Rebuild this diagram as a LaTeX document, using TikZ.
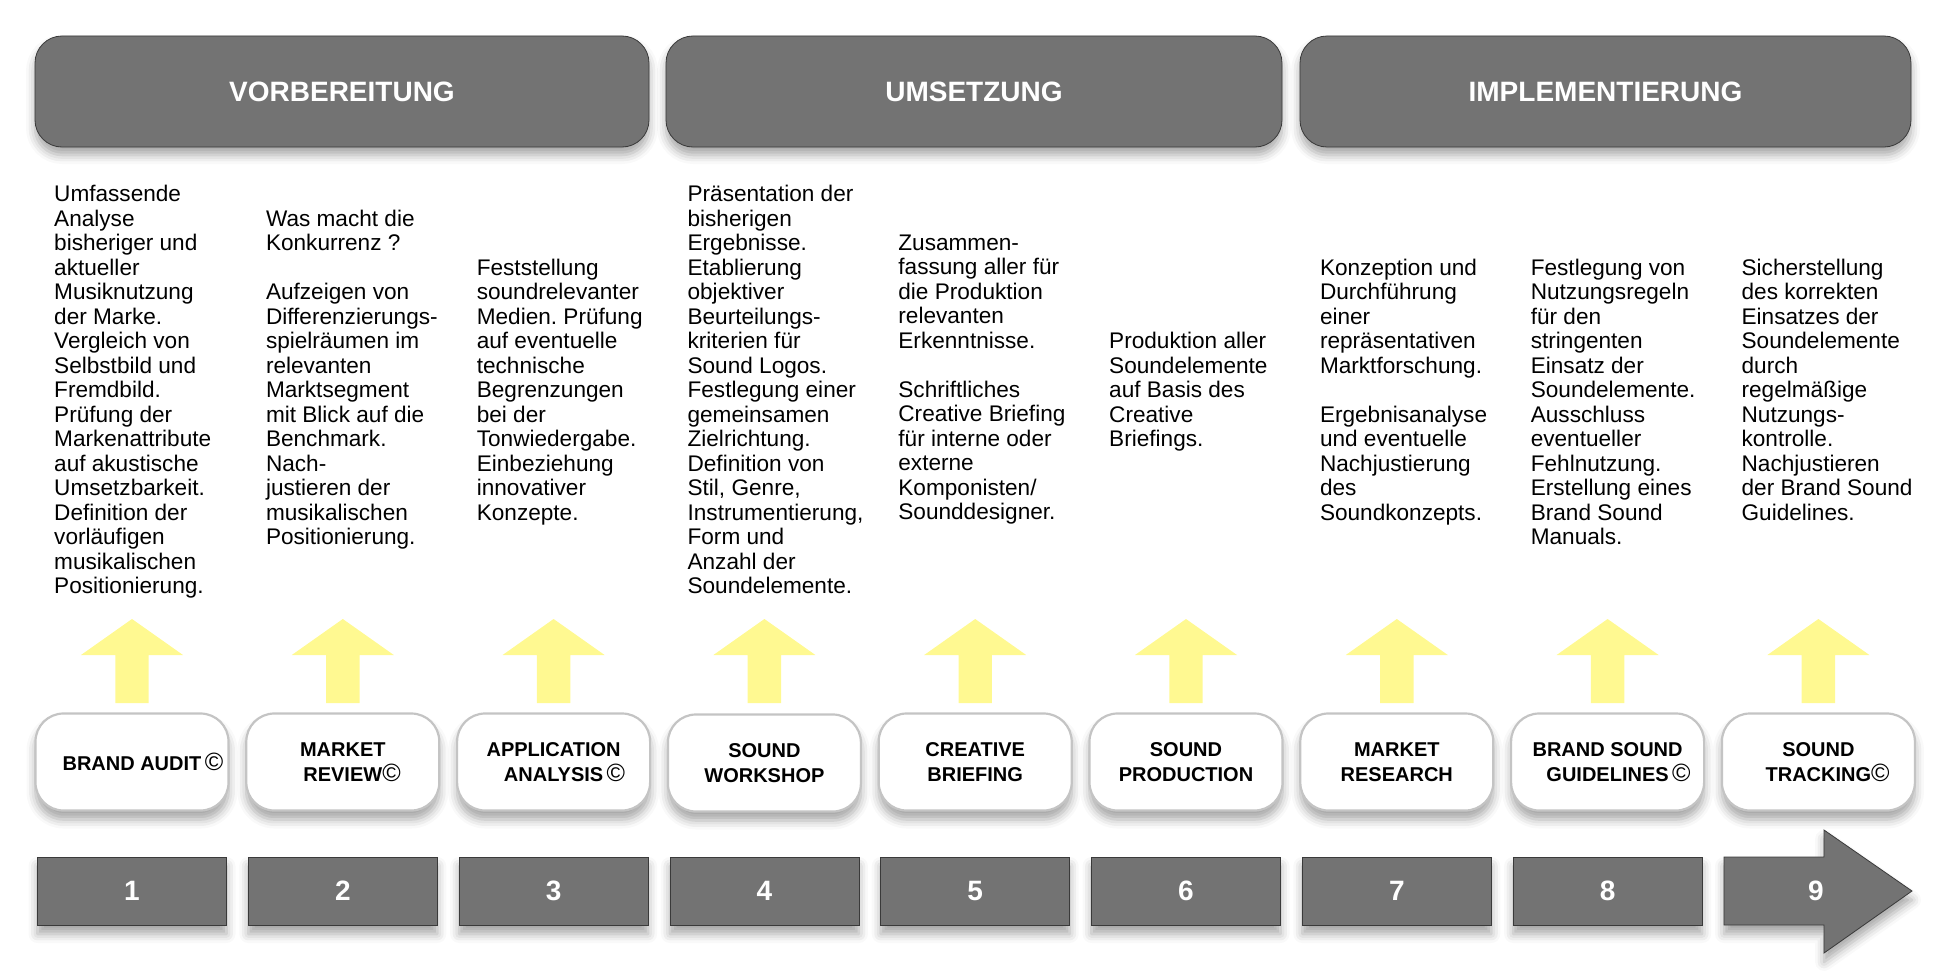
\documentclass[tikz,border=0pt]{standalone}
\usepackage{fontspec}
\setmainfont{Liberation Sans}
\usetikzlibrary{shadows.blur}
\definecolor{hdrgray}{HTML}{737373}
\definecolor{edgegray}{HTML}{3A3A3A}
\definecolor{boxedge}{HTML}{C4C4C4}
\definecolor{paleyellow}{RGB}{255,249,145}
\newcommand{\copymark}{{\fontsize{25}{25}\selectfont\mdseries ©}}
\frenchspacing
\begin{document}
\begin{tikzpicture}[x=1pt,y=-1pt,
  hdr/.style={draw=edgegray,line width=0.8pt,fill=hdrgray,rounded corners=27pt,
    blur shadow={shadow xshift=0pt,shadow yshift=-8pt,shadow blur radius=9pt,shadow opacity=35},
    minimum height=111pt,text=white,font=\bfseries\fontsize{28}{30}\selectfont,inner sep=0pt},
  stagebox/.style={draw=boxedge,line width=2.2pt,fill=white,rounded corners=28pt,
    minimum width=193pt,minimum height=97pt,align=center,inner sep=0pt,
    font=\bfseries\fontsize{20}{25}\selectfont,
    blur shadow={shadow xshift=0pt,shadow yshift=-9pt,shadow blur radius=9pt,shadow opacity=35}},
  numbox/.style={draw=edgegray,line width=0.8pt,fill=hdrgray,minimum width=189pt,minimum height=68pt,
    text=white,font=\bfseries\fontsize{28}{30}\selectfont,inner sep=0pt,
    blur shadow={shadow xshift=0pt,shadow yshift=-9pt,shadow blur radius=9pt,shadow opacity=35}},
  numlabel/.style={text=white,font=\bfseries\fontsize{28}{30}\selectfont,inner sep=0pt},
  body/.style={anchor=north west,align=left,inner sep=0pt,
    font=\fontsize{22.6}{24.5}\selectfont,execute at begin node=\strut},
  uparrow/.style={fill=paleyellow,draw=none}
]
\useasboundingbox (0,0) rectangle (1952,974);

% headers
\node[hdr,minimum width=614pt] (h1) at (342,91.5) {VORBEREITUNG};
\node[hdr,minimum width=616pt] (h2) at (974,91.5) {UMSETZUNG};
\node[hdr,minimum width=611pt] (h3) at (1605.5,91.5) {IMPLEMENTIERUNG};

% body texts
\node[body] (t1) at (54,185.4) {Umfassende\\Analyse\\bisheriger und\\aktueller\\Musiknutzung\\der Marke.\\Vergleich von\\Selbstbild und\\Fremdbild.\\Prüfung der\\Markenattribute\\auf akustische\\Umsetzbarkeit.\\Definition der\\vorläufigen\\musikalischen\\Positionierung.};
\node[body] (t2) at (265.8,209.9) {Was macht die\\Konkurrenz ?\\[24.5pt]Aufzeigen von\\Differenzierungs-\\spielräumen im\\relevanten\\Marktsegment\\mit Blick auf die\\Benchmark.\\Nach-\\justieren der\\musikalischen\\Positionierung.};
\node[body] (t3) at (476.6,258.9) {Feststellung\\soundrelevanter\\Medien. Prüfung\\auf eventuelle\\technische\\Begrenzungen\\bei der\\Tonwiedergabe.\\Einbeziehung\\innovativer\\Konzepte.};
\node[body] (t4) at (687.4,185.4) {Präsentation der\\bisherigen\\Ergebnisse.\\Etablierung\\objektiver\\Beurteilungs-\\kriterien für\\Sound Logos.\\Festlegung einer\\gemeinsamen\\Zielrichtung.\\Definition von\\Stil, Genre,\\Instrumentierung,\\Form und\\Anzahl der\\Soundelemente.};
\node[body] (t5) at (898.2,234.4) {Zusammen-\\fassung aller für\\die Produktion\\relevanten\\Erkenntnisse.\\[24.5pt]Schriftliches\\Creative Briefing\\für interne oder\\externe\\Komponisten/\\Sounddesigner.};
\node[body] (t6) at (1109,332.4) {Produktion aller\\Soundelemente\\auf Basis des\\Creative\\Briefings.};
\node[body] (t7) at (1319.8,258.9) {Konzeption und\\Durchführung\\einer\\repräsentativen\\Marktforschung.\\[24.5pt]Ergebnisanalyse\\und eventuelle\\Nachjustierung\\des\\Soundkonzepts.};
\node[body] (t8) at (1530.6,258.9) {Festlegung von\\Nutzungsregeln\\für den\\stringenten\\Einsatz der\\Soundelemente.\\Ausschluss\\eventueller\\Fehlnutzung.\\Erstellung eines\\Brand Sound\\Manuals.};
\node[body] (t9) at (1741.4,258.9) {Sicherstellung\\des korrekten\\Einsatzes der\\Soundelemente\\durch\\regelmäßige\\Nutzungs-\\kontrolle.\\Nachjustieren\\der Brand Sound\\Guidelines.};

% yellow arrows
\foreach \c in {132,342.8,553.6,764.4,975.2,1186,1396.8,1607.6,1818.4}{
  \fill[uparrow] (\c-16.7,703) -- (\c-16.7,655) -- (\c-51,655) -- (\c,619)
    -- (\c+51,655) -- (\c+16.7,655) -- (\c+16.7,703) -- cycle;
}

% stage boxes
\node[stagebox] (w1) at (132,762) {BRAND AUDIT\rlap{\,\copymark}};
\node[stagebox] (w2) at (342.8,762) {MARKET\\REVIEW\rlap{\copymark}};
\node[stagebox] (w3) at (553.6,762) {APPLICATION\\ANALYSIS\rlap{\,\copymark}};
\node[stagebox] (w4) at (764.4,763) {SOUND\\WORKSHOP};
\node[stagebox] (w5) at (975.2,762) {CREATIVE\\BRIEFING};
\node[stagebox] (w6) at (1186,762) {SOUND\\PRODUCTION};
\node[stagebox] (w7) at (1396.8,762) {MARKET\\RESEARCH};
\node[stagebox] (w8) at (1607.6,762) {BRAND SOUND\\GUIDELINES\rlap{\,\copymark}};
\node[stagebox] (w9) at (1818.4,762) {SOUND\\TRACKING\rlap{\copymark}};

% number boxes
\node[numbox] (n1) at (132,891) {1};
\node[numbox] (n2) at (342.8,891) {2};
\node[numbox] (n3) at (553.6,891) {3};
\node[numbox] (n4) at (764.4,891) {4};
\node[numbox] (n5) at (975.2,891) {5};
\node[numbox] (n6) at (1186,891) {6};
\node[numbox] (n7) at (1396.8,891) {7};
\node[numbox] (n8) at (1607.6,891) {8};
\draw[draw=edgegray,line width=0.8pt,fill=hdrgray,
  blur shadow={shadow xshift=0pt,shadow yshift=-9pt,shadow blur radius=9pt,shadow opacity=35}]
  (1724,857) -- (1824,857) -- (1824,830) -- (1912,891) -- (1824,953) -- (1824,925) -- (1724,925) -- cycle;
\node[numlabel] (n9) at (1816,891) {9};
\end{tikzpicture}
\end{document}
